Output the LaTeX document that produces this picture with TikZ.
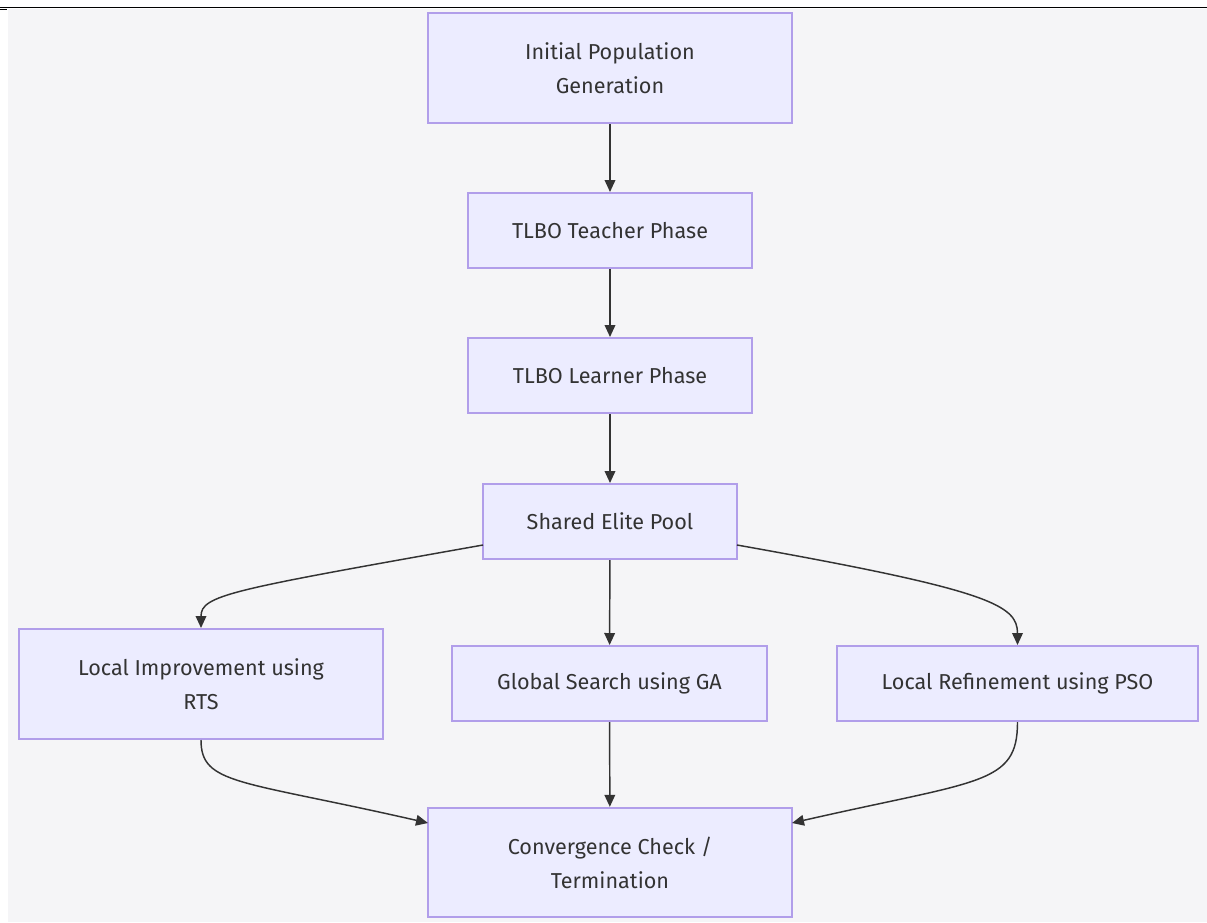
\documentclass[tikz,border=0pt]{standalone}
\usepackage{fontspec}
\setmainfont{Fira Sans}
\usetikzlibrary{arrows.meta}
\definecolor{bgc}{HTML}{F5F5F7}
\definecolor{nodefill}{HTML}{ECECFF}
\definecolor{nodeline}{HTML}{B19EEA}
\definecolor{txt}{HTML}{333333}
\tikzset{
  box/.style={draw=nodeline, fill=nodefill, line width=1.5pt, inner sep=0pt,
    align=center, text=txt, font=\fontsize{16.2}{25.5}\selectfont},
  conn/.style={draw=txt, line width=1.1pt, -{Triangle[length=9pt,width=8pt]}}
}
\begin{document}
\begin{tikzpicture}[x=0.75pt,y=-0.75pt]
\useasboundingbox (0,0) rectangle (1207,922);
\fill[bgc] (8,9) rectangle (1207,922);
\draw[black, line width=1.2pt] (0,7.5) -- (1207,7.5);
\draw[black, line width=1pt] (0,9.5) -- (7,9.5);

\node[box, minimum width=273pt, minimum height=82.5pt] (init) at (610,68) {Initial Population\\Generation};
\node[box, minimum width=213pt, minimum height=56.25pt] (teach) at (610,230.5) {TLBO Teacher Phase};
\node[box, minimum width=213pt, minimum height=56.25pt] (learn) at (610,375.5) {TLBO Learner Phase};
\node[box, minimum width=190.5pt, minimum height=56.25pt] (pool) at (610,521.5) {Shared Elite Pool};
\node[box, minimum width=273pt, minimum height=82.5pt] (rts) at (201,684) {Local Improvement using\\RTS};
\node[box, minimum width=236.25pt, minimum height=56.25pt] (ga) at (609.5,683.5) {Global Search using GA};
\node[box, minimum width=270.75pt, minimum height=56.25pt] (pso) at (1017.5,683.5) {Local Refinement using PSO};
\node[box, minimum width=273pt, minimum height=82pt] (conv) at (610,862.5) {Convergence Check /\\Termination};

\draw[conn] (init) -- (teach);
\draw[conn] (teach) -- (learn);
\draw[conn] (learn) -- (pool);
\draw[conn] (pool) -- (ga);
\draw[conn] (ga) -- (conv);

\coordinate (pl) at (483,545);
\coordinate (pr) at (737,545);
\coordinate (cl) at (428,823);
\coordinate (cr) at (792,823);

\draw[conn] (pl) .. controls (230,590) and (201,595) .. (rts.north);
\draw[conn] (pr) .. controls (990,590) and (1017.5,605) .. (pso.north);
\draw[conn] (rts.south) .. controls (201,785) and (240,780) .. (cl);
\draw[conn] (pso.south) .. controls (1017.5,785) and (980,780) .. (cr);
\end{tikzpicture}
\end{document}
